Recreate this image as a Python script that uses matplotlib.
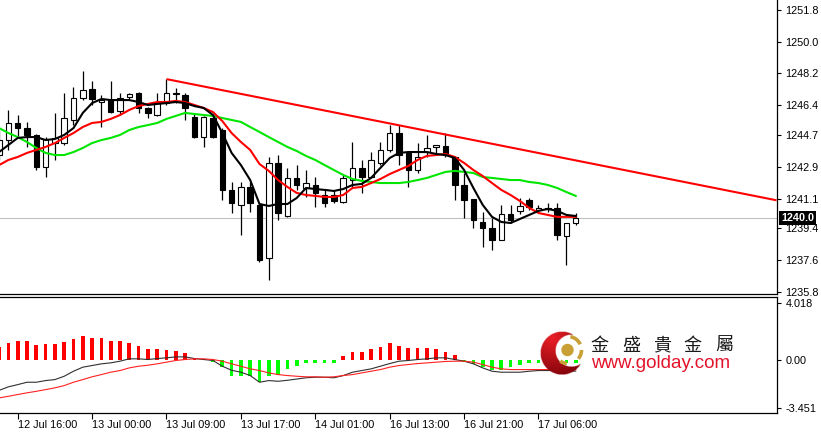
import numpy as np
import matplotlib
matplotlib.use("Agg")
import matplotlib.pyplot as plt
from matplotlib.patches import Circle, Arc
from matplotlib.transforms import blended_transform_factory

# ── Data (hourly gold candles) ───────────────────────────────────────────────
opens = [1243.57, 1244.42, 1245.39, 1245.10, 1244.71, 1242.89, 1244.25, 1244.25, 1245.56, 1246.81,
         1247.32, 1246.60, 1246.69, 1246.07, 1246.86, 1247.09, 1246.24, 1245.84, 1246.52, 1247.06,
         1246.98, 1245.73, 1244.59, 1245.67, 1244.99, 1241.59, 1240.74, 1241.76, 1240.74, 1237.73,
         1243.12, 1240.11, 1242.27, 1241.70, 1241.87, 1241.30, 1241.30, 1240.91, 1242.15, 1242.84,
         1242.32, 1243.12, 1243.86, 1244.82, 1243.69, 1242.72, 1243.74, 1244.03, 1244.08, 1243.46,
         1241.87, 1241.08, 1239.77, 1239.43, 1238.75, 1240.23, 1240.40, 1241.02, 1240.45, 1240.55,
         1240.57, 1238.98, 1239.71]
highs = [1244.99, 1246.13, 1245.84, 1245.45, 1244.75, 1244.59, 1245.96, 1247.09, 1247.43, 1248.34,
         1247.77, 1246.95, 1247.77, 1247.09, 1247.09, 1247.15, 1246.30, 1247.09, 1247.88, 1247.37,
         1247.09, 1245.96, 1245.76, 1245.84, 1245.10, 1242.04, 1242.04, 1242.04, 1240.78, 1243.46,
         1243.57, 1242.84, 1243.00, 1242.72, 1242.32, 1241.59, 1241.59, 1242.44, 1244.31, 1243.29,
         1243.74, 1244.31, 1245.27, 1245.27, 1243.72, 1244.25, 1244.71, 1244.16, 1244.82, 1243.50,
         1242.55, 1241.10, 1240.34, 1240.00, 1240.74, 1240.74, 1241.13, 1241.13, 1240.74, 1240.85,
         1240.85, 1239.74, 1240.28]
lows = [1243.29, 1243.86, 1244.59, 1244.03, 1242.72, 1242.32, 1243.29, 1244.14, 1245.27, 1246.69,
        1246.41, 1245.16, 1245.96, 1245.84, 1246.75, 1245.96, 1245.67, 1245.79, 1246.41, 1246.52,
        1245.56, 1244.55, 1244.03, 1244.54, 1241.02, 1240.28, 1239.03, 1240.34, 1237.50, 1236.48,
        1239.89, 1240.05, 1241.59, 1241.19, 1240.62, 1240.62, 1240.85, 1240.85, 1241.76, 1241.42,
        1242.27, 1243.00, 1243.74, 1243.00, 1241.76, 1242.55, 1243.46, 1243.57, 1243.46, 1241.02,
        1240.00, 1239.43, 1238.35, 1238.18, 1238.72, 1239.71, 1240.23, 1240.45, 1240.28, 1240.34,
        1238.75, 1237.33, 1239.60]
closes = [1244.42, 1245.39, 1245.10, 1244.71, 1242.89, 1244.50, 1244.54, 1245.67, 1246.81, 1247.26,
          1246.75, 1246.70, 1246.01, 1246.81, 1247.03, 1246.24, 1245.96, 1246.52, 1247.09, 1247.09,
          1246.24, 1244.59, 1245.73, 1244.59, 1241.59, 1240.85, 1241.76, 1240.85, 1237.62, 1243.12,
          1240.28, 1242.27, 1241.87, 1241.98, 1241.42, 1240.85, 1240.96, 1242.27, 1242.84, 1242.32,
          1243.29, 1243.86, 1244.82, 1243.57, 1242.72, 1243.46, 1243.97, 1244.14, 1243.57, 1241.87,
          1241.02, 1239.89, 1239.43, 1238.75, 1240.23, 1239.89, 1240.68, 1240.62, 1240.57, 1240.51,
          1239.03, 1239.71, 1240.00]

# moving averages as drawn (black / red / green)
ma_fast = [1243.74, 1244.14, 1244.54, 1244.59, 1244.59, 1244.42, 1244.48, 1244.71, 1245.10, 1245.96,
           1246.52, 1246.75, 1246.69, 1246.69, 1246.69, 1246.58, 1246.41, 1246.47, 1246.52, 1246.58,
           1246.52, 1246.35, 1246.24, 1245.84, 1244.82, 1243.69, 1243.00, 1242.15, 1240.79, 1240.68,
           1240.79, 1240.79, 1241.13, 1241.70, 1241.64, 1241.59, 1241.53, 1241.64, 1241.87, 1241.93,
           1242.27, 1242.84, 1243.40, 1243.69, 1243.74, 1243.74, 1243.74, 1243.63, 1243.57, 1243.40,
           1242.72, 1241.70, 1240.74, 1240.06, 1239.77, 1239.71, 1239.94, 1240.17, 1240.40, 1240.51,
           1240.40, 1240.17, 1240.11]
ma_mid = [1243.00, 1243.29, 1243.46, 1243.69, 1243.86, 1244.03, 1244.25, 1244.54, 1244.82, 1245.16,
          1245.39, 1245.45, 1245.62, 1245.84, 1246.13, 1246.35, 1246.47, 1246.58, 1246.58, 1246.64,
          1246.58, 1246.41, 1246.24, 1246.01, 1245.50, 1244.82, 1244.31, 1243.86, 1243.06, 1242.67,
          1242.15, 1241.76, 1241.42, 1241.30, 1241.25, 1241.19, 1241.19, 1241.30, 1241.70, 1241.76,
          1241.98, 1242.21, 1242.49, 1242.72, 1242.95, 1243.29, 1243.52, 1243.57, 1243.63, 1243.46,
          1243.12, 1242.72, 1242.38, 1241.98, 1241.59, 1241.30, 1240.96, 1240.57, 1240.28, 1240.17,
          1240.06, 1240.06, 1240.06]
ma_slow = [1245.10, 1244.82, 1244.59, 1244.31, 1243.97, 1243.69, 1243.57, 1243.57, 1243.74, 1243.97,
           1244.25, 1244.42, 1244.54, 1244.71, 1244.99, 1245.16, 1245.27, 1245.39, 1245.62, 1245.79,
           1245.96, 1245.90, 1245.84, 1245.79, 1245.67, 1245.56, 1245.45, 1245.16, 1244.88, 1244.59,
           1244.31, 1244.03, 1243.80, 1243.52, 1243.29, 1243.00, 1242.72, 1242.44, 1242.21, 1242.10,
           1242.04, 1241.98, 1241.98, 1241.98, 1242.04, 1242.15, 1242.27, 1242.44, 1242.61, 1242.67,
           1242.61, 1242.55, 1242.32, 1242.27, 1242.21, 1242.15, 1242.15, 1242.04, 1241.98, 1241.87,
           1241.70, 1241.47, 1241.25]

# MACD panel
macd_hist = [0.88, 1.20, 1.31, 1.31, 1.03, 1.13, 1.13, 1.24, 1.44, 1.67,
             1.56, 1.51, 1.31, 1.31, 1.20, 0.96, 0.77, 0.72, 0.67, 0.60,
             0.48, 0.12, 0.05, -0.20, -0.55, -1.15, -1.15, -1.20, -1.58, -1.20,
             -1.08, -0.65, -0.45, -0.22, -0.22, -0.22, -0.22, 0.22, 0.57, 0.57,
             0.72, 0.93, 1.15, 1.00, 0.86, 0.86, 0.86, 0.72, 0.57, 0.29,
             -0.18, -0.29, -0.57, -0.72, -0.72, -0.57, -0.36, -0.22, -0.22, -0.22,
             -0.22, -0.22, -0.22]
macd_main = [-2.21, -1.96, -1.80, -1.63, -1.63, -1.51, -1.44, -1.20, -0.84, -0.55,
             -0.43, -0.31, -0.24, -0.12, 0.05, 0.05, 0.00, 0.07, 0.12, 0.19,
             0.19, 0.07, 0.00, -0.07, -0.48, -0.77, -0.91, -1.15, -1.63, -1.51,
             -1.56, -1.49, -1.40, -1.31, -1.27, -1.27, -1.31, -1.15, -0.91, -0.79,
             -0.67, -0.48, -0.29, -0.12, -0.07, 0.00, 0.05, 0.12, 0.12, 0.00,
             -0.12, -0.31, -0.60, -0.84, -0.91, -0.91, -0.91, -0.84, -0.79, -0.79,
             -0.79, -0.83, -0.83]
macd_signal = [-2.75, -2.64, -2.51, -2.39, -2.28, -2.16, -2.03, -1.87, -1.63, -1.44,
               -1.24, -1.08, -0.91, -0.79, -0.60, -0.48, -0.41, -0.31, -0.19, -0.07,
               0.00, 0.05, 0.05, 0.00, -0.12, -0.31, -0.48, -0.67, -0.79, -0.96,
               -1.08, -1.15, -1.20, -1.24, -1.24, -1.27, -1.24, -1.15, -1.08, -0.96,
               -0.84, -0.72, -0.55, -0.43, -0.36, -0.29, -0.24, -0.19, -0.14, -0.12,
               -0.12, -0.19, -0.36, -0.55, -0.67, -0.72, -0.72, -0.72, -0.72, -0.72,
               -0.72, -0.72, -0.72]

time_tick_bars = [2, 10, 18, 26, 34, 42, 50, 58]
time_labels = ["12 Jul 16:00", "13 Jul 00:00", "13 Jul 09:00", "13 Jul 17:00",
               "14 Jul 01:00", "16 Jul 13:00", "16 Jul 21:00", "17 Jul 06:00"]
price_ticks = [1235.8, 1237.6, 1239.4, 1241.1, 1242.9, 1244.7, 1246.4, 1248.2, 1250.0, 1251.8]
macd_ticks = [-3.451, 0.0, 4.018]
macd_tick_labels = ["-3.451", "0.00", "4.018"]
trend_bars = [18, 83.6]
trend_prices = [1247.88, 1241.00]
last_price = 1240.0

# ── Figure layout (pixel based, 821x433) ─────────────────────────────────────
W, H = 821, 433
AX_R = 777
plt.rcParams["font.family"] = ["Liberation Sans", "DejaVu Sans"]
fig = plt.figure(figsize=(W / 100, H / 100), dpi=100)
fig.patch.set_facecolor("white")

ax = fig.add_axes([0, (H - 293.5) / H, AX_R / W, 293.5 / H])
ax2 = fig.add_axes([0, (H - 412.5) / H, AX_R / W, (412.5 - 296.5) / H])

x = np.arange(len(opens))
o = np.array(opens); c = np.array(closes)
up = c >= o

# ── Main panel: candles, MAs, trendline ──────────────────────────────────────
ax.axhline(last_price, color="#c0c0c0", lw=0.8, zorder=1)
ax.vlines(x, lows, highs, color="black", lw=0.9, zorder=2)
body_lo = np.minimum(o, c)
body_h = np.maximum(np.abs(c - o), 0.03)
ax.bar(x, body_h, bottom=body_lo, width=0.6,
       color=np.where(up, "white", "black"), edgecolor="black", linewidth=0.8, zorder=3)

ax.plot(x, ma_slow, color="#00e600", lw=1.5, zorder=4)
ax.plot(x, ma_mid, color="#ff0000", lw=1.5, zorder=4)
ax.plot(x, ma_fast, color="black", lw=1.5, zorder=4)
ax.plot(trend_bars, trend_prices, color="#ff0000", lw=1.5, zorder=5, solid_capstyle="butt")

ax.set_xlim(0.097, (AX_R + 0.9) / 9.3)
ax.set_ylim(1235.71, 1252.37)

# ── MACD panel ───────────────────────────────────────────────────────────────
hist = np.array(macd_hist)
ax2.bar(x, hist, width=0.4, color=np.where(hist >= 0, "#ff0000", "#00ff00"), zorder=2)
ax2.plot(x, macd_main, color="#303030", lw=0.8, zorder=3)
ax2.plot(x, macd_signal, color="#ff2020", lw=0.8, zorder=3)
ax2.set_xlim(0.097, (AX_R + 0.9) / 9.3)
ax2.set_ylim(-3.80, 4.52)

# ── Axes styling (MT4 look) ──────────────────────────────────────────────────
for a in (ax, ax2):
    a.spines["left"].set_visible(False)
    for s in ("right", "bottom", "top"):
        a.spines[s].set_linewidth(0.9)
        a.spines[s].set_color("black")
    a.yaxis.tick_right()
    a.tick_params(axis="y", length=3, width=0.8, pad=3, labelsize=7.8, colors="black")
ax.spines["top"].set_visible(False)

ax.set_xticks([])
ax.set_yticks(price_ticks)
ax.set_yticklabels([f"{p:.1f}" for p in price_ticks])

ax2.set_yticks(macd_ticks)
ax2.set_yticklabels(macd_tick_labels)
ax2.set_xticks(time_tick_bars)
ax2.set_xticklabels(time_labels, ha="left")
ax2.tick_params(axis="x", length=4, width=0.8, pad=1.5, labelsize=7.8)

# current price tag
tr = blended_transform_factory(ax.transAxes, ax.transData)
ax.text(1.0 + 4 / AX_R, last_price, f"{last_price:.1f}", transform=tr, ha="left", va="center",
        color="white", fontsize=7.8, fontweight="bold", clip_on=False, zorder=6,
        bbox=dict(facecolor="black", edgecolor="none", pad=1.2))

# ── Watermark logo (drawn in pixel space) ────────────────────────────────────
ov = fig.add_axes([0, 0, 1, 1], zorder=10)
gx, gy = np.meshgrid(np.arange(538, 588, 0.25), np.arange(328, 378, 0.25))
mask = (np.hypot(gx - 562, gy - 353) <= 21.5) & (np.hypot(gx - 571.5, gy - 350.5) > 16)
shade = np.clip(np.hypot(gx - 552, gy - 338) / 36, 0, 1)
rgba = np.zeros(gx.shape + (4,))
rgba[..., 0] = 0.92 - 0.38 * shade
rgba[..., 1] = 0.12 - 0.10 * shade
rgba[..., 2] = 0.15 - 0.10 * shade
rgba[..., 3] = mask
ov.imshow(rgba, extent=(538, 588, 378, 328), interpolation="bilinear")
ov.set_xlim(0, W)
ov.set_ylim(H, 0)
ov.set_aspect("auto")
ov.axis("off")
ov.patch.set_alpha(0)

gold = "#c8a035"
ov.add_patch(Circle((567.5, 350), 5.5, color=gold))
ov.add_patch(Arc((568, 350), 27, 27, theta1=-80, theta2=-25, lw=2.6, color=gold))
ov.add_patch(Arc((568, 350), 27, 27, theta1=0, theta2=40, lw=2.6, color=gold))
ov.add_patch(Arc((568, 350), 27, 27, theta1=95, theta2=125, lw=2.6, color=gold))

for ch, cx in zip("金盛貴金屬", [599, 631, 662, 692, 724]):
    ov.text(cx, 345.5, ch, ha="center", va="center", fontsize=13, color="#1a1a1a",
            family=["Noto Sans CJK TC", "DejaVu Sans"])
ov.text(591, 368, "www.golday.com", ha="left", va="baseline", fontsize=13.5, color="#e3132b")

fig.savefig("out.png", dpi=100)
